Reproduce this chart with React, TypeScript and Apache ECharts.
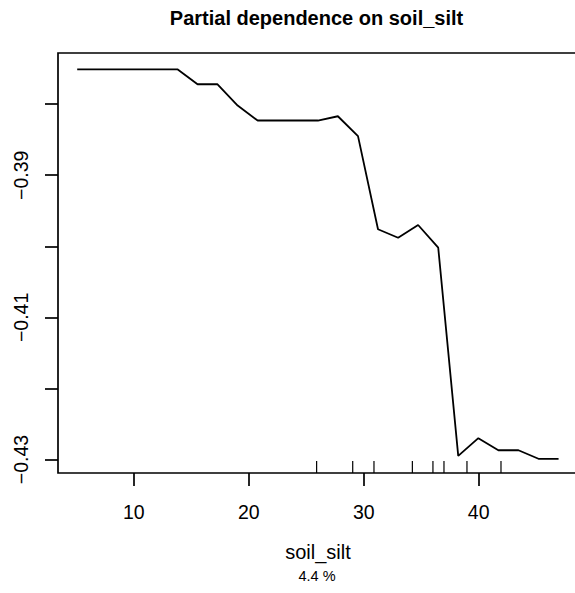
import React, { useEffect, useRef } from "react";
import * as echarts from "echarts";

const xValues = [5.07, 6.81, 8.56, 10.3, 12.05, 13.79, 15.54, 17.28, 19.03, 20.77, 22.52, 24.26, 26.01, 27.75, 29.5, 31.24, 32.99, 34.73, 36.48, 38.22, 39.97, 41.71, 43.46, 45.2, 46.95];
const yValues = [-0.3751, -0.3751, -0.3751, -0.3751, -0.3751, -0.3751, -0.3772, -0.3772, -0.3802, -0.3823, -0.3823, -0.3823, -0.3823, -0.3817, -0.3845, -0.3976, -0.3988, -0.397, -0.4002, -0.4295, -0.427, -0.4287, -0.4287, -0.4299, -0.4299];
const rugValues = [25.9, 29.04, 30.89, 34.23, 36.02, 36.98, 38.98, 41.94];
const xTicks = [10, 20, 30, 40];
const yTicks = [-0.43, -0.42, -0.41, -0.4, -0.39, -0.38];
const yLabels = [-0.43, -0.41, -0.39];

const X_MIN = 3.4;
const X_MAX = 48.64;
const Y_MIN = -0.4319;
const Y_MAX = -0.3728;

const FONT = '"Liberation Sans", Arial, Helvetica, sans-serif';

export default function App() {
  const ref = useRef<HTMLDivElement>(null);
  useEffect(() => {
    document.body.style.margin = "0";
    if (!ref.current) return;
    const chart = echarts.init(ref.current, null, { renderer: "svg" });
    chart.setOption({
      animation: false,
      backgroundColor: "#ffffff",
      textStyle: { fontFamily: FONT },
      grid: {
        left: 58,
        top: 53,
        right: -3,
        bottom: 120,
        show: true,
        borderColor: "#000",
        borderWidth: 1.7,
        containLabel: false,
        outerBoundsMode: "none",
      },
      xAxis: {
        type: "value",
        min: X_MIN,
        max: X_MAX,
        splitLine: { show: false },
        axisLine: { show: false },
        axisTick: {
          show: true,
          customValues: xTicks,
          length: 13,
          lineStyle: { color: "#000", width: 1.7 },
        },
        axisLabel: {
          customValues: xTicks,
          fontSize: 19.5,
          color: "#000",
          margin: 29,
          fontFamily: FONT,
        },
        name: "soil_silt",
        nameLocation: "middle",
        nameGap: 69,
        nameTextStyle: { fontSize: 20, color: "#000", fontFamily: FONT },
      },
      yAxis: {
        type: "value",
        min: Y_MIN,
        max: Y_MAX,
        splitLine: { show: false },
        axisLine: { show: false },
        axisTick: {
          show: true,
          customValues: yTicks,
          length: 13,
          lineStyle: { color: "#000", width: 1.7 },
        },
        axisLabel: {
          customValues: yLabels,
          fontSize: 19.5,
          color: "#000",
          rotate: 90,
          margin: 27,
          fontFamily: FONT,
          formatter: (v: number) => v.toFixed(2).replace("-", "\u2212"),
        },
      },
      graphic: [
        {
          type: "text",
          x: 316.5,
          y: 18,
          style: {
            text: "Partial dependence on soil_silt",
            fontSize: 20,
            fontWeight: "bold",
            fontFamily: FONT,
            fill: "#000",
            textAlign: "center",
            textVerticalAlign: "middle",
          },
        },
        {
          type: "text",
          x: 317,
          y: 576,
          style: {
            text: "4.4 %",
            fontSize: 14.5,
            fontFamily: FONT,
            fill: "#000",
            textAlign: "center",
            textVerticalAlign: "middle",
          },
        },
      ],
      series: [
        {
          type: "line",
          data: xValues.map((x, i) => [x, yValues[i]]),
          symbol: "none",
          lineStyle: { color: "#000", width: 1.8 },
          silent: true,
        },
        {
          type: "custom",
          data: rugValues.map((v) => [v, Y_MIN]),
          renderItem: (params: any, api: any) => {
            const p = api.coord([api.value(0), api.value(1)]);
            return {
              type: "line",
              shape: { x1: p[0], y1: p[1], x2: p[0], y2: p[1] - 12 },
              style: { stroke: "#000", lineWidth: 1.2 },
            };
          },
          silent: true,
        },
      ],
    });
    return () => chart.dispose();
  }, []);
  return <div ref={ref} style={{ width: 575, height: 593 }} />;
}
